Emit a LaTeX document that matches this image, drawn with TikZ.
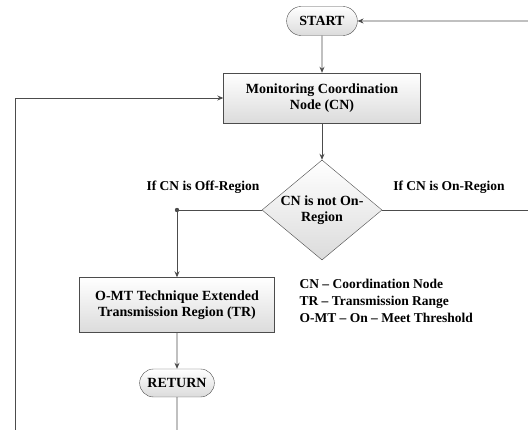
\documentclass[tikz,border=0pt]{standalone}
\usepackage{fontspec}
\setmainfont{Liberation Serif}
\usetikzlibrary{shapes.geometric,shapes.misc,arrows.meta}

\tikzset{
  box/.style={draw=black!70, top color=white, bottom color=black!14, align=center,
    font=\fontsize{14}{16}\selectfont\bfseries, inner sep=2pt},
  term/.style={box, rounded rectangle, minimum height=29pt, inner xsep=10pt},
  proc/.style={box, rectangle},
  dec/.style={box, diamond, aspect=1.2, minimum width=120pt, minimum height=100pt, inner sep=-5pt},
  line/.style={draw=black!70, line width=0.9pt},
  arr/.style={line, -{Stealth[length=6pt,width=5pt]}},
  lbl/.style={font=\fontsize{13.5}{16}\selectfont\bfseries}
}

\begin{document}
\begin{tikzpicture}[x=1pt,y=-1pt]
\useasboundingbox (0,0) rectangle (528,430);
% flowchart nodes
\node[term, inner xsep=12pt] (start) at (322,21) {START};
\node[proc, minimum width=197pt, minimum height=50pt] (mon) at (322,98) {Monitoring Coordination\\Node (CN)};
\node[dec] (chk) at (322,210) {CN is not On-\\Region};
\coordinate (split) at (177,210);
\node[proc, minimum width=195pt, minimum height=55pt] (omt) at (177,305) {O-MT Technique Extended\\Transmission Region (TR)};
\node[term, inner xsep=7pt, minimum height=28pt] (ret) at (177,383) {RETURN};
% free ends at the border
\coordinate (topright) at (528,21);
\coordinate (midright) at (528,210);
\coordinate (botleft) at (15,430);
\coordinate (bot) at (177,430);

\draw[arr] (topright) -- (start);
\draw[arr] (start) -- (mon);
\draw[arr] (botleft) |- (mon);
\draw[arr] (mon) -- (chk);
\draw[line] (chk) -- (midright);
\draw[line] (chk) -- (split);
\fill[black!70] (split) circle (2.2pt);
\draw[arr] (split) -- (omt);
\draw[arr] (omt) -- (ret);
\draw[line] (ret) -- (bot);

\node[lbl] (off) at (203,187) {If CN is Off-Region};
\node[lbl] (on) at (449,187) {If CN is On-Region};
\node[lbl, anchor=west, align=left, font=\fontsize{13.5}{17}\selectfont\bfseries] (legend) at (296,301)
  {CN -- Coordination Node\\TR -- Transmission Range\\O-MT -- On -- Meet Threshold};
\end{tikzpicture}
\end{document}
